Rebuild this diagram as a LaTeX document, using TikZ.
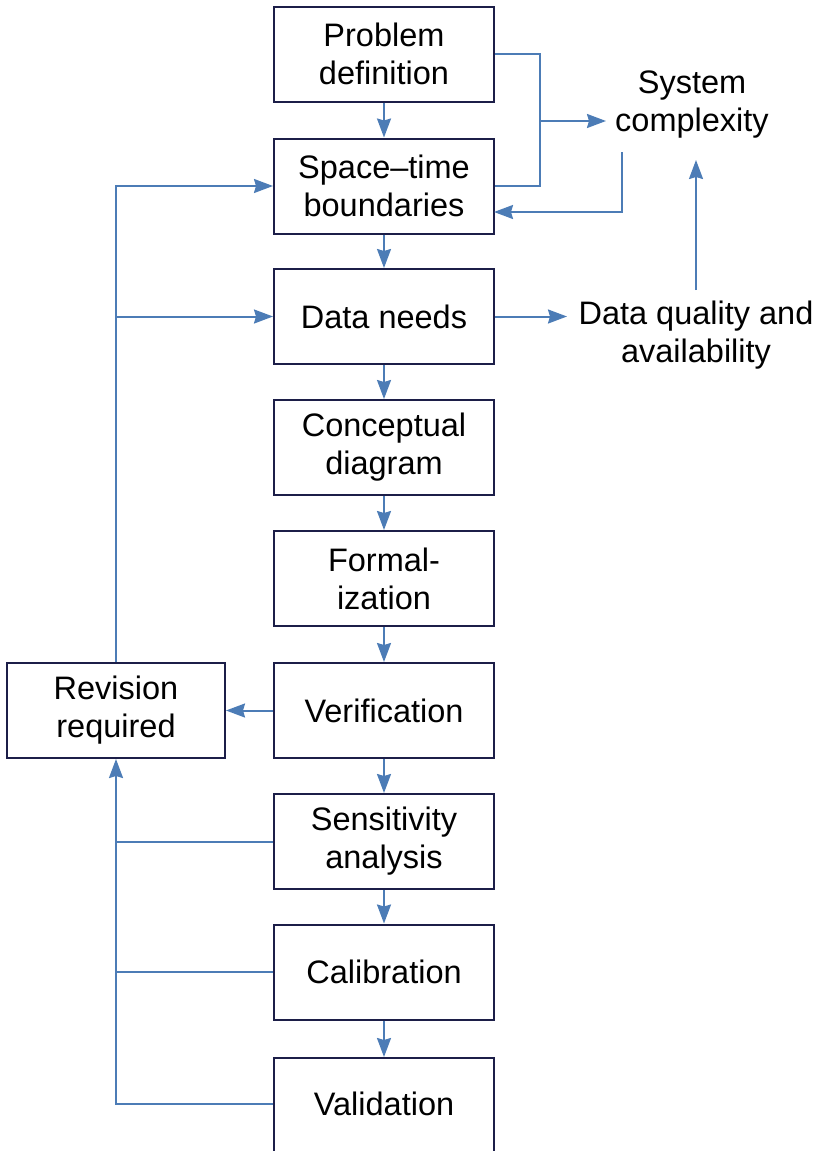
\documentclass[tikz,border=0pt]{standalone}
\usepackage{fontspec}
\setmainfont{Liberation Sans}
\usetikzlibrary{arrows.meta,calc}
\definecolor{boxline}{RGB}{28,30,72}
\definecolor{arrblue}{RGB}{76,124,182}
\begin{document}
\begin{tikzpicture}[x=1pt,y=-1pt,
  box/.style={draw=boxline,line width=2pt,minimum width=220pt,minimum height=95pt,inner sep=0pt,align=center,font=\fontsize{32.5}{38}\selectfont},
  plain/.style={align=center,inner sep=0pt,font=\fontsize{32.5}{38}\selectfont},
  conn/.style={draw=arrblue,line width=2pt},
  arr/.style={conn,-{Stealth[length=19pt,width=14pt,inset=2pt]}}]
\useasboundingbox (0,0) rectangle (820,1151);
\node[box] (pd) at (384,54) {Problem\\definition};
\node[box] (st) at (384,186) {Space--time\\boundaries};
\node[box] (dn) at (384,316.5) {Data needs};
\node[box] (cd) at (384,447.5) {Conceptual\\diagram};
\node[box] (fo) at (384,578.5) {Formal-\\ization};
\node[box] (ve) at (384,710.5) {Verification};
\node[box] (se) at (384,841.5) {Sensitivity\\analysis};
\node[box] (ca) at (384,972) {Calibration};
\node[box,anchor=north,minimum height=120pt] (va) at (384,1057) {};
\node[plain] (vatext) at (384,1104) {Validation};
\node[box,minimum width=218pt] (rv) at (116,710.5) {Revision\\required};
\node[plain] (sc) at (692,105) {System\\complexity};
\node[plain] (dq) at (696,335) {Data quality and\\availability};
% main chain
\draw[arr] (pd.south) -- (st.north);
\draw[arr] (st.south) -- (dn.north);
\draw[arr] (dn.south) -- (cd.north);
\draw[arr] (cd.south) -- (fo.north);
\draw[arr] (fo.south) -- (ve.north);
\draw[arr] (ve.south) -- (se.north);
\draw[arr] (se.south) -- (ca.north);
\draw[arr] (ca.south) -- (va.north);
% right side
\coordinate (jx) at (540,0);
\coordinate (scin) at (606,121);
\coordinate (scout) at (622,152);
\coordinate (stin) at (494,212);
\coordinate (dqin) at (567,316.5);
\coordinate (dqup) at (696,290);
\coordinate (scup) at (696,160);
\draw[conn] (pd.east) -| (jx |- st.east) -- (st.east);
\draw[arr] (jx |- scin) -- (scin);
\draw[arr] (scout) |- (stin);
\draw[arr] (dn.east) -- (dqin);
\draw[arr] (dqup) -- (scup);
% left loop
\draw[arr] (ve.west) -- (rv.east);
\draw[arr] (rv.north) |- (st.west);
\draw[arr] (rv.north |- dn.west) -- (dn.west);
\draw[conn] (se.west) -- (se.west -| rv.south);
\draw[conn] (ca.west) -- (ca.west -| rv.south);
\draw[arr] (va.west |- vatext) -| (rv.south);
\end{tikzpicture}
\end{document}
